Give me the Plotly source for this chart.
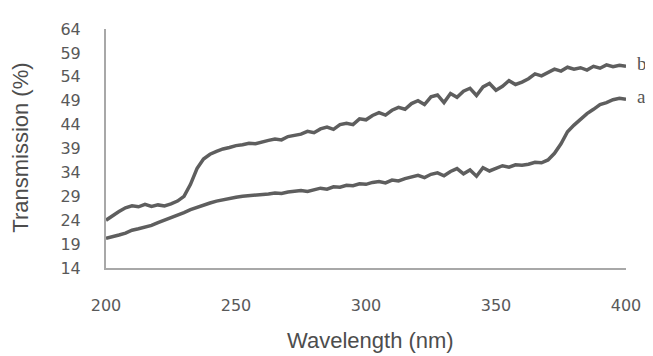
import plotly.graph_objects as go

wavelength = [200 + 2.5 * i for i in range(81)]

trans_b = [24.0, 25.0, 25.8, 26.6, 27.0, 26.8, 27.3, 26.9, 27.2, 27.0,
           27.4, 28.0, 29.0, 31.5, 34.8, 36.8, 37.8, 38.4, 38.9, 39.2,
           39.6, 39.8, 40.1, 40.0, 40.4, 40.7, 41.0, 40.8, 41.5, 41.8,
           42.0, 42.6, 42.3, 43.1, 43.5, 43.0, 44.0, 44.3, 44.0, 45.2,
           45.0, 45.9, 46.5, 46.0, 47.0, 47.6, 47.2, 48.4, 49.0, 48.2,
           49.8, 50.2, 48.6, 50.5, 49.7, 51.0, 51.6, 50.1, 51.9, 52.6,
           51.2, 52.0, 53.2, 52.4, 52.9, 53.6, 54.6, 54.2, 54.9, 55.6,
           55.2, 56.0, 55.6, 55.9, 55.4, 56.2, 55.8, 56.5, 56.1, 56.4,
           56.2]

trans_a = [20.2, 20.5, 20.9, 21.3, 21.9, 22.2, 22.6, 22.9, 23.5, 24.0,
           24.5, 25.0, 25.6, 26.2, 26.7, 27.2, 27.6, 28.0, 28.3, 28.6,
           28.8, 29.0, 29.1, 29.3, 29.4, 29.5, 29.7, 29.6, 29.9, 30.0,
           30.2, 30.0, 30.4, 30.7, 30.5, 31.0, 30.9, 31.3, 31.2, 31.6,
           31.5, 31.9, 32.1, 31.8, 32.4, 32.2, 32.7, 33.0, 33.4, 32.9,
           33.6, 33.9, 33.3, 34.2, 34.8, 33.7, 34.5, 33.2, 35.0, 34.3,
           34.9, 35.4, 35.1, 35.6, 35.5, 35.7, 36.1, 36.0, 36.6, 38.0,
           40.0, 42.5, 43.9, 45.2, 46.3, 47.2, 48.2, 48.6, 49.2, 49.5,
           49.3]

y_ticks = [14, 19, 24, 29, 34, 39, 44, 49, 54, 59, 64]
x_ticks = [200, 250, 300, 350, 400]
series_labels = ["b", "a"]

line_color = "#5e5e5e"
axis_color = "#a8a8a8"
tick_font = dict(family="DejaVu Sans", size=16, color="#595959")

fig = go.Figure()
fig.add_trace(go.Scatter(x=wavelength, y=trans_b, mode="lines",
                         line=dict(color=line_color, width=3.5), name="b"))
fig.add_trace(go.Scatter(x=wavelength, y=trans_a, mode="lines",
                         line=dict(color=line_color, width=3.5), name="a"))

for lab, ser in zip(series_labels, [trans_b, trans_a]):
    fig.add_annotation(x=0.995, y=ser[-1], xref="paper", yref="y",
                       text=lab, showarrow=False,
                       xanchor="left", yanchor="middle", xshift=12, yshift=3,
                       font=dict(family="Liberation Serif", size=19, color="#555555"))

fig.add_annotation(xref="paper", yref="paper", x=0.508, y=-0.302,
                   text="Wavelength (nm)", showarrow=False,
                   xanchor="center", yanchor="middle",
                   font=dict(family="Liberation Sans", size=22, color="#4d4d4d"))
fig.add_annotation(xref="paper", yref="paper", x=-0.165, y=0.504,
                   text="Transmission (%)", showarrow=False, textangle=-90,
                   xanchor="center", yanchor="middle",
                   font=dict(family="Liberation Sans", size=22, color="#4d4d4d"))

fig.update_layout(
    width=645, height=348,
    margin=dict(l=98, r=27, t=12, b=88),
    plot_bgcolor="white", paper_bgcolor="white",
    showlegend=False,
    xaxis=dict(range=[200, 400], tickvals=x_ticks, showgrid=False, zeroline=False,
               showline=True, linecolor=axis_color, linewidth=2,
               ticks="", ticklabelstandoff=22, tickfont=tick_font),
    yaxis=dict(range=[14, 64], tickvals=y_ticks, showgrid=False, zeroline=False,
               showline=True, linecolor=axis_color, linewidth=2,
               ticks="", ticklabelstandoff=20, tickfont=tick_font),
)

fig.write_html("out.html")
